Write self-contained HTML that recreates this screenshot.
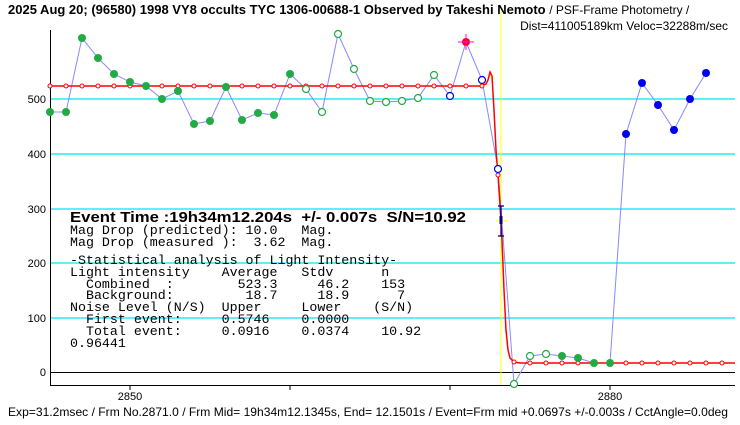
<!DOCTYPE html>
<html><head><meta charset="utf-8"><style>
html,body{margin:0;padding:0;background:#fff;}
svg{display:block;}
text{font-family:"Liberation Sans","Noto Sans CJK JP",sans-serif;}
.m{font-family:"Liberation Mono","Noto Sans CJK JP",monospace;font-size:13.3px;}
</style></head><body>
<svg width="740" height="425" viewBox="0 0 740 425" xmlns="http://www.w3.org/2000/svg">
<rect width="740" height="425" fill="#fff"/>
<g stroke="#00e5ee" stroke-width="1.2">
<line x1="50" y1="99" x2="735" y2="99"/>
<line x1="50" y1="154" x2="735" y2="154"/>
<line x1="50" y1="209" x2="735" y2="209"/>
<line x1="50" y1="263" x2="735" y2="263"/>
<line x1="50" y1="318" x2="735" y2="318"/>
</g>
<line x1="50" y1="372.5" x2="735" y2="372.5" stroke="#000" stroke-width="1"/>
<line x1="501" y1="12" x2="501" y2="385" stroke="#ffff00" stroke-width="1"/>
<line x1="50.5" y1="30" x2="50.5" y2="385" stroke="#000"/>
<line x1="50" y1="385.5" x2="735" y2="385.5" stroke="#000"/>
<g stroke="#000"><line x1="130" y1="385" x2="130" y2="390"/><line x1="290" y1="385" x2="290" y2="390"/><line x1="450" y1="385" x2="450" y2="390"/><line x1="610" y1="385" x2="610" y2="390"/></g>
<g font-size="11" text-anchor="end">
<text x="46" y="103">500</text><text x="46" y="158">400</text><text x="46" y="213">300</text><text x="46" y="267">200</text><text x="46" y="322">100</text><text x="46" y="376">0</text>
</g>
<text x="130" y="400" font-size="11" text-anchor="middle">2850</text>
<text x="610" y="400" font-size="11" text-anchor="middle">2880</text>
<text x="8" y="14" font-size="13" font-weight="bold">2025 Aug 20; (96580) 1998 VY8 occults TYC 1306-00688-1 Observed by Takeshi Nemoto <tspan font-weight="normal" font-size="12">/ PSF-Frame Photometry /</tspan></text>
<text x="728" y="30" font-size="12" text-anchor="end">Dist=411005189km Veloc=32288m/sec</text>
<text x="8" y="416" font-size="12" textLength="720" lengthAdjust="spacingAndGlyphs">Exp=31.2msec / Frm No.2871.0 / Frm Mid= 19h34m12.1345s,  End= 12.1501s / Event=Frm mid +0.0697s +/-0.003s / CctAngle=0.0deg</text>
<polyline fill="none" stroke="#8888ff" stroke-width="1" points="50,112 66,112 82,38 98,58 114,74 130,82 146,86 162,99 178,91 194,124 210,121 226,87 242,120 258,113 274,115 290,74 306,89 322,112 338,34 354,69 370,101 386,102 402,101 418,98 434,75 450,96 466,42 482,80 498,169 514,384 530,356 546,354 562,356 578,358 594,363 610,363 626,134 642,83 658,105 674,130 690,99 706,73"/>
<polyline fill="none" stroke="#ff0000" stroke-width="1.5" points="50,86 480,86 486,84 488,80 490,72 492,76 494,110 496,150 498,175 500,205 502,240 504,290 506,330 508,350 510,358 514,362 520,363 735,363"/>
<g fill="#fff" stroke="#ff0000" stroke-width="1">
<circle cx="50" cy="86" r="2"/><circle cx="66" cy="86" r="2"/><circle cx="82" cy="86" r="2"/><circle cx="98" cy="86" r="2"/><circle cx="114" cy="86" r="2"/><circle cx="130" cy="86" r="2"/><circle cx="146" cy="86" r="2"/><circle cx="162" cy="86" r="2"/><circle cx="178" cy="86" r="2"/><circle cx="194" cy="86" r="2"/><circle cx="210" cy="86" r="2"/><circle cx="226" cy="86" r="2"/><circle cx="242" cy="86" r="2"/><circle cx="258" cy="86" r="2"/><circle cx="274" cy="86" r="2"/><circle cx="290" cy="86" r="2"/><circle cx="306" cy="86" r="2"/><circle cx="322" cy="86" r="2"/><circle cx="338" cy="86" r="2"/><circle cx="354" cy="86" r="2"/><circle cx="370" cy="86" r="2"/><circle cx="386" cy="86" r="2"/><circle cx="402" cy="86" r="2"/><circle cx="418" cy="86" r="2"/><circle cx="434" cy="86" r="2"/><circle cx="450" cy="86" r="2"/><circle cx="466" cy="86" r="2"/><circle cx="482" cy="86" r="2"/><circle cx="498" cy="175" r="2"/><circle cx="514" cy="362" r="2"/><circle cx="530" cy="363" r="2"/><circle cx="546" cy="363" r="2"/><circle cx="562" cy="363" r="2"/><circle cx="578" cy="363" r="2"/><circle cx="594" cy="363" r="2"/><circle cx="610" cy="363" r="2"/><circle cx="626" cy="363" r="2"/><circle cx="642" cy="363" r="2"/><circle cx="658" cy="363" r="2"/><circle cx="674" cy="363" r="2"/><circle cx="690" cy="363" r="2"/><circle cx="706" cy="363" r="2"/><circle cx="722" cy="363" r="2"/>
</g>
<g fill="#22aa44">
<circle cx="50" cy="112" r="4"/><circle cx="66" cy="112" r="4"/><circle cx="82" cy="38" r="4"/><circle cx="98" cy="58" r="4"/><circle cx="114" cy="74" r="4"/><circle cx="130" cy="82" r="4"/><circle cx="146" cy="86" r="4"/><circle cx="162" cy="99" r="4"/><circle cx="178" cy="91" r="4"/><circle cx="194" cy="124" r="4"/><circle cx="210" cy="121" r="4"/><circle cx="226" cy="87" r="4"/><circle cx="242" cy="120" r="4"/><circle cx="258" cy="113" r="4"/><circle cx="274" cy="115" r="4"/><circle cx="290" cy="74" r="4"/><circle cx="562" cy="356" r="4"/><circle cx="578" cy="358" r="4"/><circle cx="594" cy="363" r="4"/><circle cx="610" cy="363" r="4"/>
</g>
<g fill="#fff" stroke="#22aa44" stroke-width="1.2">
<circle cx="306" cy="89" r="3.5"/><circle cx="322" cy="112" r="3.5"/><circle cx="338" cy="34" r="3.5"/><circle cx="354" cy="69" r="3.5"/><circle cx="370" cy="101" r="3.5"/><circle cx="386" cy="102" r="3.5"/><circle cx="402" cy="101" r="3.5"/><circle cx="418" cy="98" r="3.5"/><circle cx="434" cy="75" r="3.5"/><circle cx="514" cy="384" r="3.5"/><circle cx="530" cy="356" r="3.5"/><circle cx="546" cy="354" r="3.5"/>
</g>
<g fill="#fff" stroke="#0000ee" stroke-width="1.2">
<circle cx="450" cy="96" r="3.5"/><circle cx="482" cy="80" r="3.5"/><circle cx="498" cy="169" r="3.5"/>
</g>
<g fill="#0000ee">
<circle cx="626" cy="134" r="4"/><circle cx="642" cy="83" r="4"/><circle cx="658" cy="105" r="4"/><circle cx="674" cy="130" r="4"/><circle cx="690" cy="99" r="4"/><circle cx="706" cy="73" r="4"/>
</g>
<circle cx="466" cy="42" r="4" fill="#ff0000"/>
<g stroke="#ff00ff"><line x1="458" y1="42" x2="474" y2="42"/><line x1="466" y1="34" x2="466" y2="50"/></g>
<line x1="496" y1="221" x2="508" y2="221" stroke="#ffff00"/>
<g stroke="#000080" stroke-width="1.3"><line x1="501" y1="206" x2="501" y2="236"/><line x1="498" y1="206" x2="504" y2="206"/><line x1="498" y1="236" x2="504" y2="236"/></g>
<rect x="499.5" y="216" width="3" height="8" fill="#000080"/>
<text x="70" y="222" font-size="15" font-weight="bold" textLength="396" lengthAdjust="spacingAndGlyphs" xml:space="preserve">Event Time :19h34m12.204s  +/- 0.007s  S/N=10.92</text>
<g>
<text x="70" y="234" class="m" xml:space="preserve">Mag Drop (predicted): 10.0   Mag.</text>
<text x="70" y="246" class="m" xml:space="preserve">Mag Drop (measured ):  3.62  Mag.</text>
<text x="70" y="264" class="m" xml:space="preserve">-Statistical analysis of Light Intensity-</text>
<text x="70" y="276" class="m" xml:space="preserve">Light intensity    Average   Stdv      n</text>
<text x="70" y="288" class="m" xml:space="preserve">  Combined  :        523.3     46.2    153</text>
<text x="70" y="299" class="m" xml:space="preserve">  Background:         18.7     18.9      7</text>
<text x="70" y="311" class="m" xml:space="preserve">Noise Level (N/S)  Upper     Lower    (S/N)</text>
<text x="70" y="323" class="m" xml:space="preserve">  First event:     0.5746    0.0000</text>
<text x="70" y="335" class="m" xml:space="preserve">  Total event:     0.0916    0.0374    10.92</text>
<text x="70" y="347" class="m" xml:space="preserve">0.96441</text>
</g>
</svg>
</body></html>
